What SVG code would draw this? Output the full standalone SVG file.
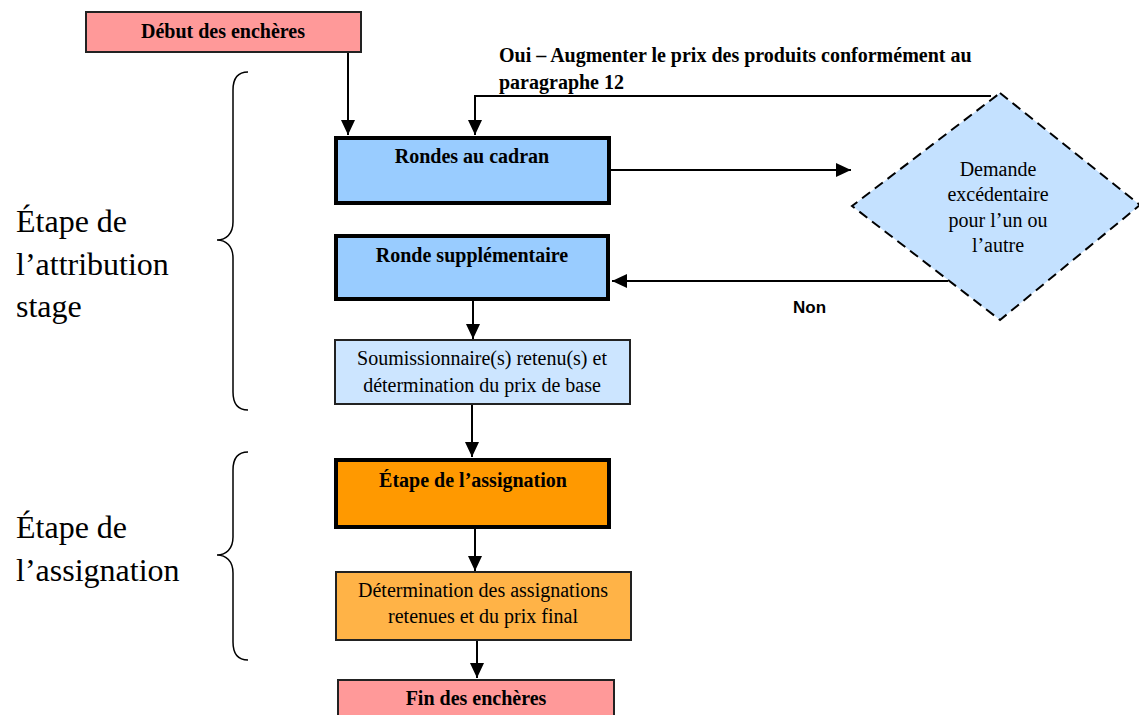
<svg xmlns="http://www.w3.org/2000/svg" width="1139" height="715" viewBox="0 0 1139 715">
<style>
.b{font-family:"Liberation Serif","Times New Roman",serif;font-size:20px;font-weight:bold;fill:#000;text-anchor:middle}
.r{font-family:"Liberation Serif","Times New Roman",serif;font-size:20px;fill:#000;text-anchor:middle}
.big{font-family:"Liberation Serif","Times New Roman",serif;font-size:32px;fill:#000}
.non{font-family:"Liberation Sans",Arial,sans-serif;font-size:17px;font-weight:bold;fill:#000}
.thin{stroke:#222;stroke-width:2}
.thick{stroke:#000;stroke-width:4}
.c{fill:none;stroke:#000;stroke-width:2}
.brace{fill:none;stroke:#000;stroke-width:1.5}
</style>
<defs>
<marker id="ah" markerUnits="userSpaceOnUse" markerWidth="16" markerHeight="14" refX="15" refY="7" orient="auto">
<path d="M0,0 L15,7 L0,14 z" fill="#000"/>
</marker>
</defs>
<rect width="1139" height="715" fill="#fff"/>

<g id="connectors">
<path class="c" d="M348,52 V135" marker-end="url(#ah)"/>
<path class="c" d="M991,96 H475 V135" marker-end="url(#ah)"/>
<path class="c" d="M610,170 H851" marker-end="url(#ah)"/>
<path class="c" d="M948,281 H612" marker-end="url(#ah)"/>
<path class="c" d="M473,300 V339" marker-end="url(#ah)"/>
<path class="c" d="M472,404 V457" marker-end="url(#ah)"/>
<path class="c" d="M475,528 V571" marker-end="url(#ah)"/>
<path class="c" d="M477,640 V678" marker-end="url(#ah)"/>
</g>

<g id="brace-attribution">
<path class="brace" d="M248,72 C238,72 233,78 233,90 V222 C233,234 226,240 217,240 C226,240 233,246 233,258 V392 C233,404 238,410 248,410"/>
<text class="big" x="16" y="232">Étape de</text>
<text class="big" x="16" y="275">l’attribution</text>
<text class="big" x="16" y="317">stage</text>
</g>

<g id="brace-assignation">
<path class="brace" d="M248,452 C238,452 233,458 233,470 V537 C233,549 226,555 217,555 C226,555 233,561 233,573 V642 C233,654 238,660 248,660"/>
<text class="big" x="16" y="538">Étape de</text>
<text class="big" x="16" y="581">l’assignation</text>
</g>

<g id="label-oui">
<text class="b" x="499" y="62" style="text-anchor:start">Oui – Augmenter le prix des produits conformément au</text>
<text class="b" x="499" y="89" style="text-anchor:start">paragraphe 12</text>
</g>

<g id="label-non">
<text class="non" x="793" y="313">Non</text>
</g>

<g id="debut">
<rect class="thin" x="86" y="12" width="275" height="40" fill="#FF9999"/>
<text class="b" x="223" y="38">Début des enchères</text>
</g>

<g id="rondes-cadran">
<rect class="thick" x="336" y="138" width="273" height="65" fill="#99CCFF"/>
<text class="b" x="472" y="163">Rondes au cadran</text>
</g>

<g id="ronde-supp">
<rect class="thick" x="336" y="236" width="272" height="63" fill="#99CCFF"/>
<text class="b" x="472" y="262">Ronde supplémentaire</text>
</g>

<g id="demande">
<polygon points="1000,93 1140,205 1000,320 852,206" fill="#C4E1FF" stroke="#000" stroke-width="2" stroke-dasharray="10,6"/>
<text class="r" x="998" y="176">Demande</text>
<text class="r" x="998" y="201">excédentaire</text>
<text class="r" x="998" y="227">pour l’un ou</text>
<text class="r" x="998" y="252">l’autre</text>
</g>

<g id="soumissionnaire">
<rect class="thin" x="335" y="340" width="295" height="64" fill="#CCE5FF" stroke-width="1.5"/>
<text class="r" x="482" y="365">Soumissionnaire(s) retenu(s) et</text>
<text class="r" x="482" y="392">détermination du prix de base</text>
</g>

<g id="etape-assignation">
<rect class="thick" x="336" y="460" width="273" height="67" fill="#FF9900"/>
<text class="b" x="473" y="487">Étape de l’assignation</text>
</g>

<g id="determination">
<rect class="thin" x="336" y="572" width="295" height="68" fill="#FFB347" stroke-width="1.5"/>
<text class="r" x="483" y="597">Détermination des assignations</text>
<text class="r" x="483" y="623">retenues et du prix final</text>
</g>

<g id="fin">
<rect class="thin" x="338" y="680" width="276" height="40" fill="#FF9999"/>
<text class="b" x="476" y="705">Fin des enchères</text>
</g>
</svg>
